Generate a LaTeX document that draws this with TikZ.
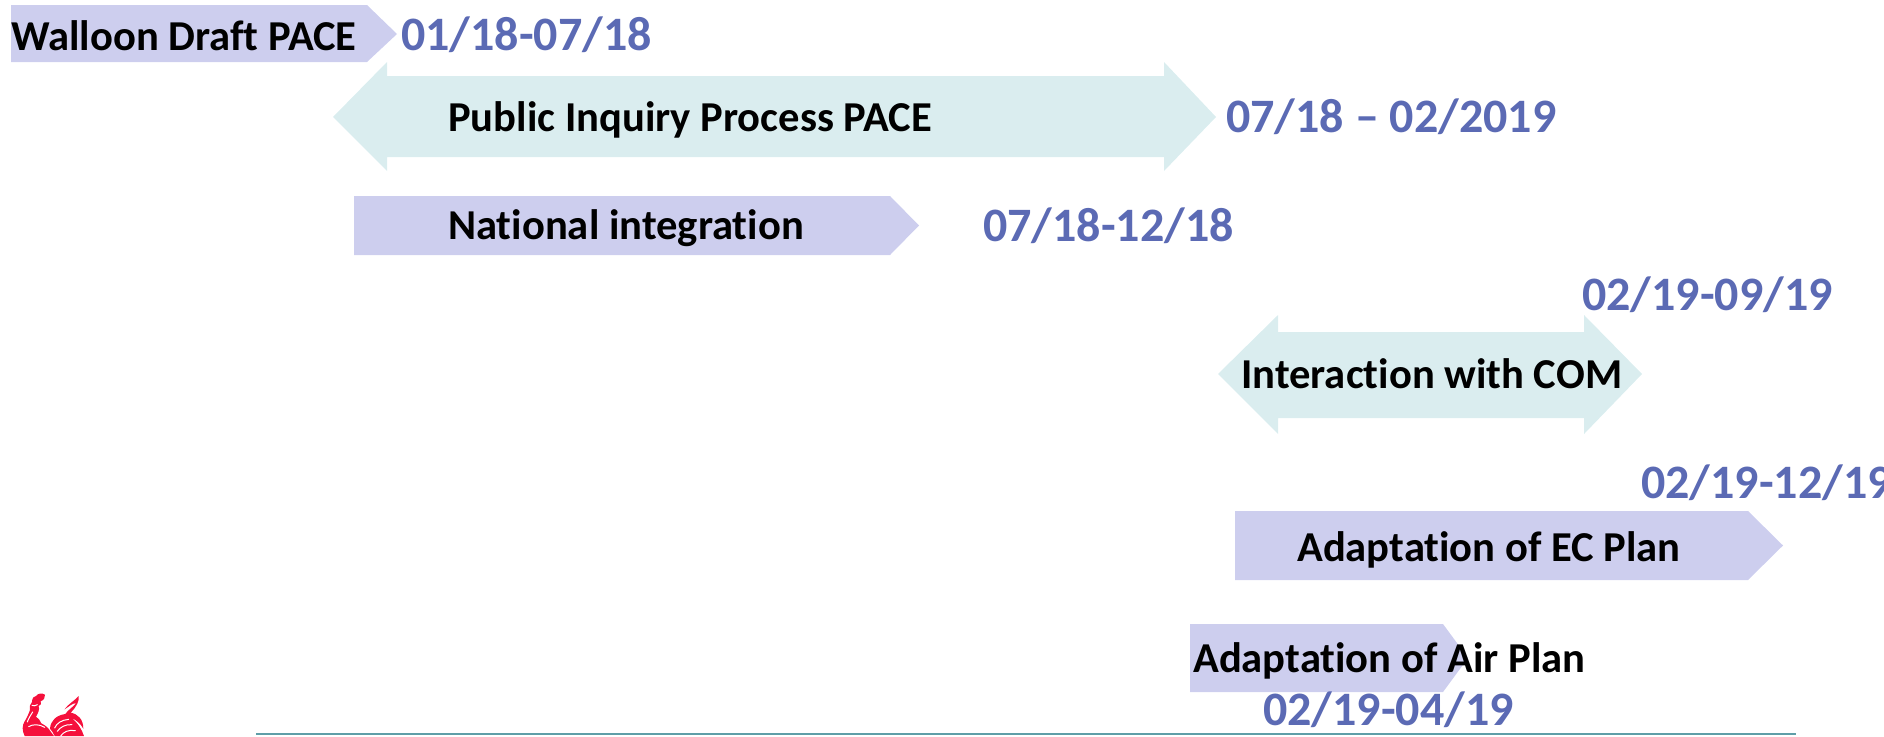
\documentclass[tikz,border=0pt]{standalone}
\usepackage{fontspec}
\setmainfont{Carlito}[RawFeature={-liga;-clig}]
\definecolor{barlav}{HTML}{CDCEEE}
\definecolor{barteal}{HTML}{DAEDEF}
\definecolor{datecol}{HTML}{5B6AB4}
\definecolor{rulecol}{HTML}{5F9EA8}
\definecolor{cockred}{HTML}{F5103C}
\tikzset{
  lav/.style={fill=barlav,draw=none},
  teal/.style={fill=barteal,draw=none},
  lbl/.style={font=\fontsize{42.6}{50}\selectfont\bfseries,text=black,inner sep=0pt,anchor=base west},
  date/.style={font=\fontsize{48}{56}\selectfont\bfseries,text=datecol,inner sep=0pt,anchor=base west},
  cockfill/.style={fill=cockred,draw=none},
  cockline/.style={draw=white,line width=1pt,line cap=round},
}
\begin{document}
\begin{tikzpicture}[x=1pt,y=-1pt]
\useasboundingbox (0,0) rectangle (1884,736);
\clip (0,0) rectangle (1884,736);
% bars
\path[lav] (11,5) -- (367,5) -- (397,34) -- (367,62) -- (11,62) -- cycle;
\path[teal] (333,117) -- (387,62) -- (387,76) -- (1164,76) -- (1164,62) -- (1216,117) -- (1164,171) -- (1164,157) -- (387,157) -- (387,171) -- cycle;
\path[lav] (354,196) -- (890,196) -- (919,225.5) -- (890,255) -- (354,255) -- cycle;
\path[teal] (1218,374) -- (1278,315) -- (1278,332) -- (1584,332) -- (1584,315) -- (1642,374) -- (1584,434) -- (1584,418) -- (1278,418) -- (1278,434) -- cycle;
\path[lav] (1235,511) -- (1748,511) -- (1783,545.5) -- (1748,580) -- (1235,580) -- cycle;
\path[lav] (1190,624) -- (1443,624) -- (1468,658) -- (1443,692) -- (1190,692) -- cycle;
% rule
\draw[rulecol,line width=1.4pt] (256,734) coordinate (ra) -- (1796,734) coordinate (rb);
% labels
\node[lbl] (n1) at (11,50.5) {Walloon Draft PACE};
\node[lbl] (n2) at (448,131) {Public Inquiry Process PACE};
\node[lbl] (n3) at (448,239) {National integration};
\node[lbl] (n4) at (1241,388) {Interaction with COM};
\node[lbl] (n5) at (1297,561) {Adaptation of EC Plan};
\node[lbl] (n6) at (1193,672) {Adaptation of Air Plan};
% dates
\node[date] (d1) at (401,50.5) {01/18-07/18};
\node[date] (d2) at (1226,132) {07/18 – 02/2019};
\node[date] (d3) at (983,241.5) {07/18-12/18};
\node[date] (d4) at (1582,310) {02/19-09/19};
\node[date] (d5) at (1641,498.6) {02/19-12/19};
\node[date] (d6) at (1263,725.7) {02/19-04/19};
% rooster (drawn in 3x crop units, origin at 10,686)
\begin{scope}[shift={(10,686)},x=0.3333pt,y=-0.3333pt]
 % comb and head
 \path[cockfill] (66,48) .. controls (66,36) and (72,30) .. (78,30) .. controls (84,22) and (96,20) .. (105,26)
   .. controls (106,34) and (102,42) .. (92,46) .. controls (96,52) and (92,58) .. (86,60)
   .. controls (90,70) and (84,82) .. (78,92) .. controls (84,96) and (92,104) .. (94,112)
   .. controls (106,118) and (116,126) .. (120,134) -- (132,150) -- (44,150)
   .. controls (36,134) and (36,118) .. (44,106) .. controls (52,94) and (56,82) .. (60,72)
   .. controls (58,62) and (60,54) .. (66,48) -- cycle;
 % tail arc
 \path[cockfill] (120,128) .. controls (122,104) and (138,88) .. (166,84) .. controls (172,74) and (190,62) .. (198,52)
   .. controls (190,50) and (176,62) .. (164,70) .. controls (172,56) and (194,44) .. (206,30)
   .. controls (208,46) and (200,62) .. (182,80) .. controls (204,84) and (220,100) .. (220,128)
   .. controls (212,114) and (200,102) .. (184,96) .. controls (204,110) and (216,132) .. (222,150)
   -- (134,150) .. controls (130,142) and (126,134) .. (120,128) -- cycle;
 % white feather lines
 \draw[cockline] (134,126) .. controls (140,112) and (154,102) .. (176,100);
 \draw[cockline] (142,136) .. controls (150,124) and (166,114) .. (186,116);
 \draw[cockline] (152,150) .. controls (160,138) and (176,130) .. (196,134);
 \draw[cockline] (56,122) .. controls (68,114) and (88,114) .. (104,124);
 \draw[cockline] (52,108) .. controls (56,96) and (62,88) .. (68,78);
 \draw[cockline] (66,58) .. controls (72,60) and (76,60) .. (82,56);
\end{scope}
\end{tikzpicture}
\end{document}
